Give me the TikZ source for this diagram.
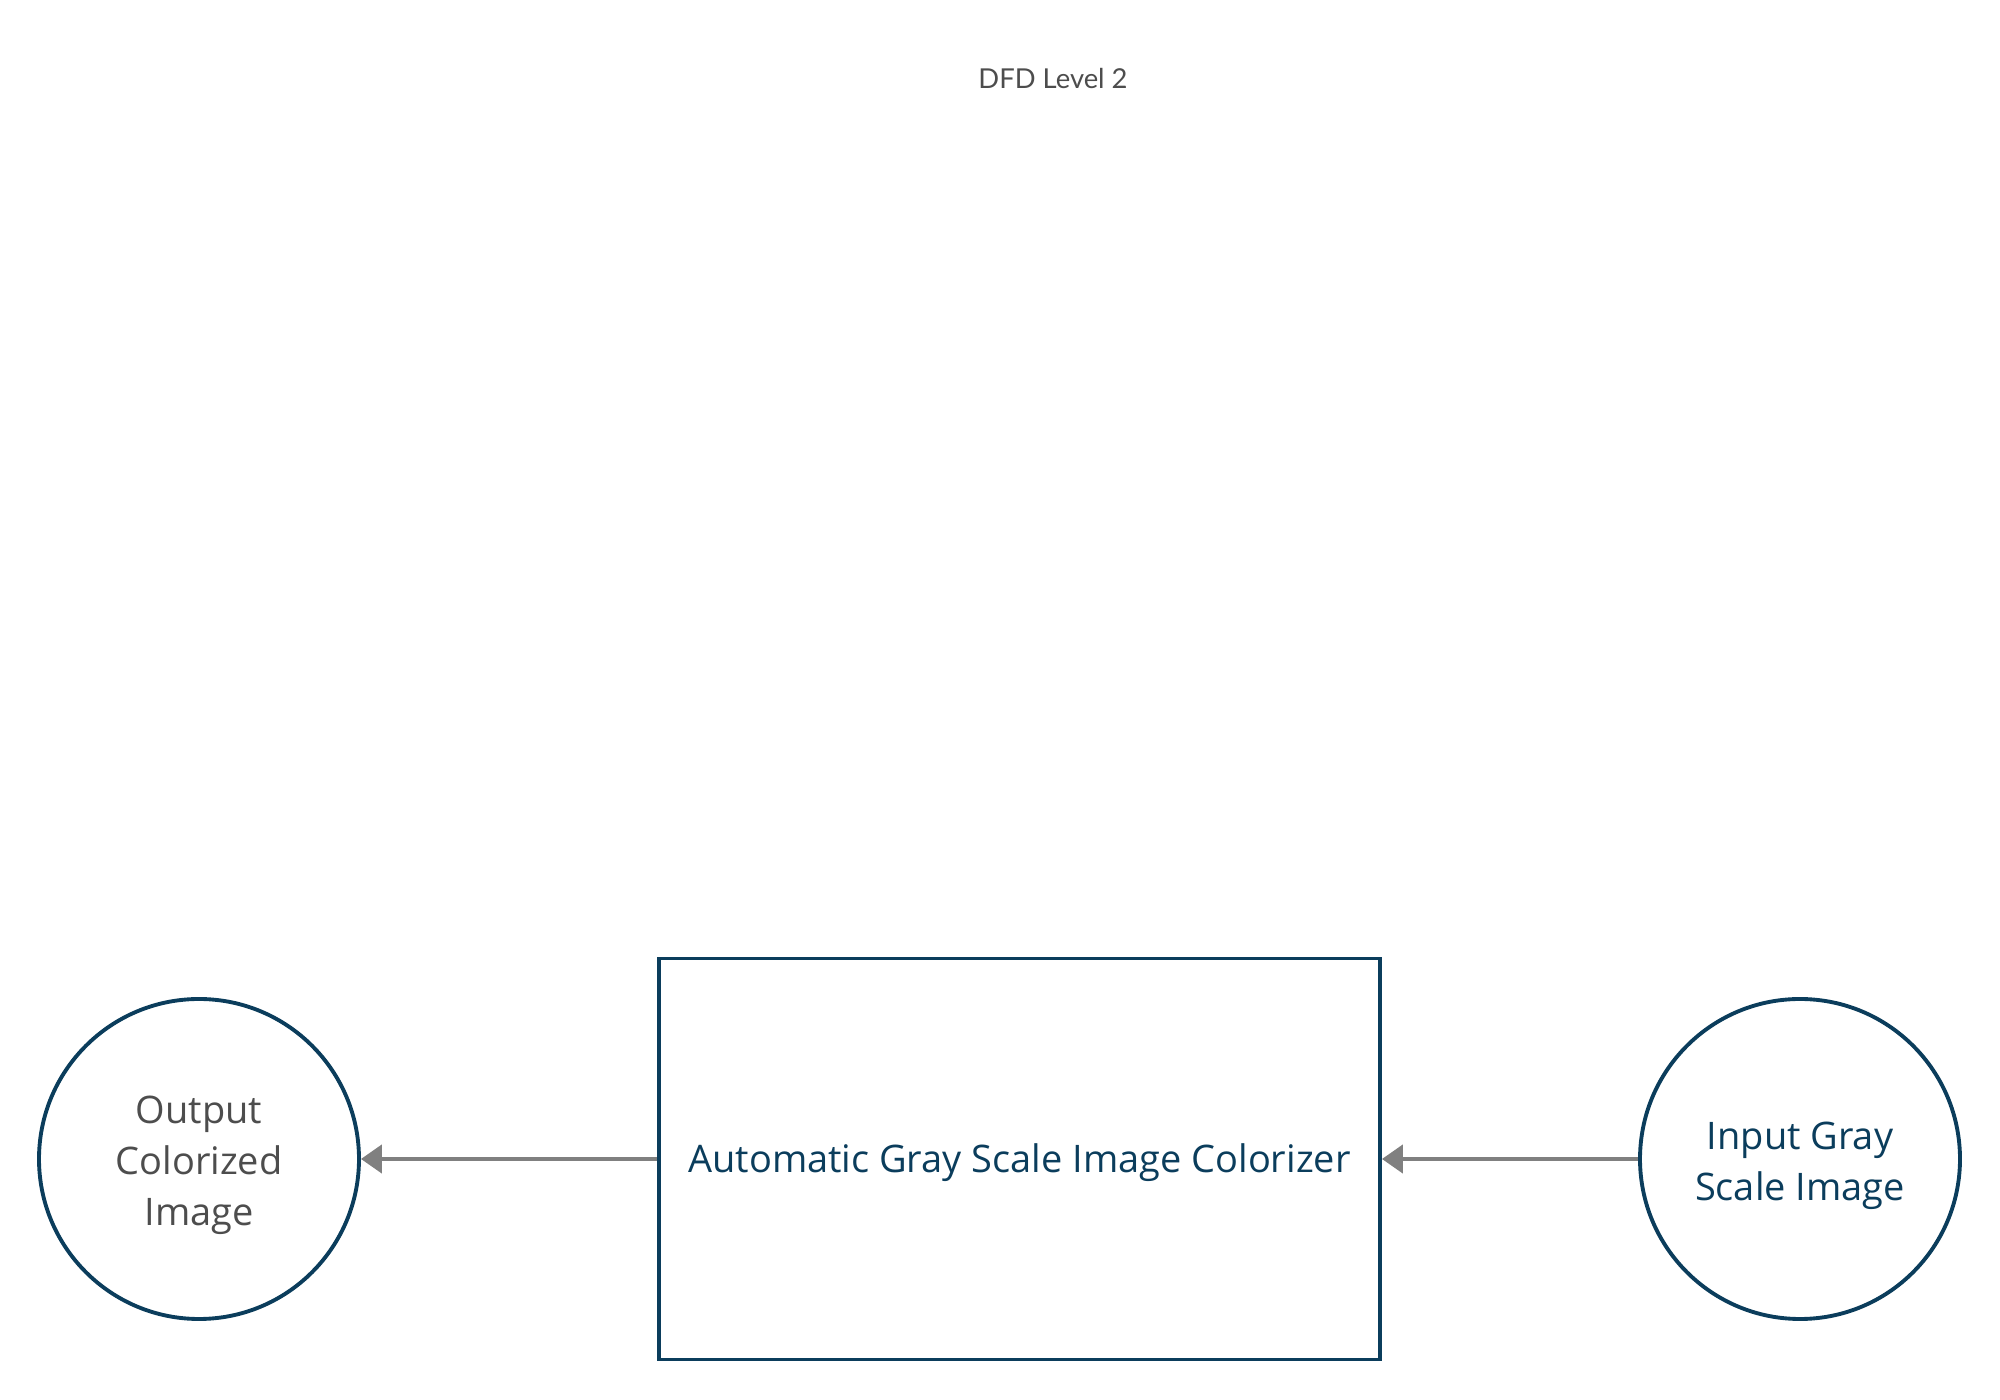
\documentclass[tikz,border=0pt]{standalone}
\usepackage{fontspec}
\setmainfont{Open Sans}
\newfontfamily\titlefont{Lato}
\usetikzlibrary{arrows.meta}
\definecolor{dfdblue}{HTML}{0B3D5C}
\definecolor{dfdgray}{HTML}{4D4D4D}
\definecolor{arrgray}{HTML}{808080}
\begin{document}
\begin{tikzpicture}[
  proc/.style={draw=dfdblue, line width=1.1pt, minimum width=7.21cm, minimum height=4.01cm, inner sep=0pt},
  ent/.style={draw=dfdblue, line width=1.1pt, circle, minimum size=3.2cm, inner sep=0pt},
  lbl/.style={align=center, inner sep=0pt, font=\fontsize{10.8}{14.5}\selectfont},
  flow/.style={draw=arrgray, line width=1.25pt, -{Triangle[length=0.21cm, width=0.28cm]}}
]
\useasboundingbox (0,0) rectangle (20,14);
\node[font=\titlefont\fontsize{7.8}{9}\selectfont, text=dfdgray] (title) at (10.53,13.21) {DFD Level 2};
\node[proc] (p) at (10.195,2.41) {};
\node[lbl, text=dfdblue] (ptxt) at ([yshift=-0.04cm]p.center) {Automatic Gray Scale Image Colorizer};
\node[ent] (out) at (1.99,2.41) {};
\node[lbl, text=dfdgray] (outtxt) at ([yshift=-0.065cm]out.center) {Output\\Colorized\\Image};
\node[ent] (in) at (18.00,2.41) {};
\node[lbl, text=dfdblue] (intxt) at ([yshift=-0.065cm]in.center) {Input Gray\\Scale Image};
\draw[flow] (p.west) -- (out.east);
\draw[flow] (in.west) -- (p.east);
\end{tikzpicture}
\end{document}
